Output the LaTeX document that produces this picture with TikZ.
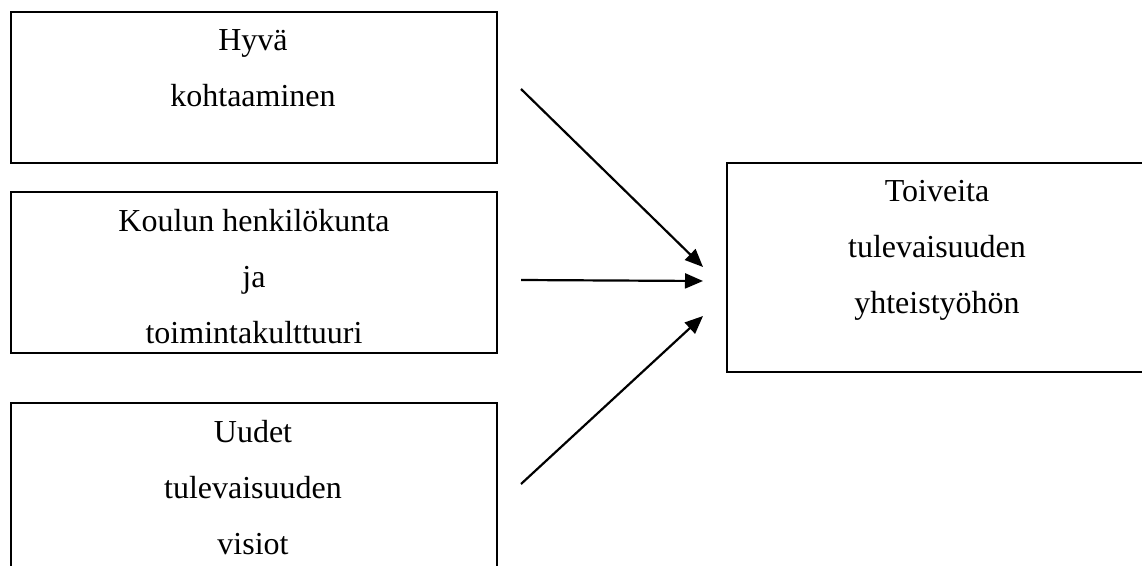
\documentclass[tikz,border=0pt]{standalone}
\usepackage{fontspec}
\setmainfont{Liberation Serif}
\usetikzlibrary{arrows.meta}
\begin{document}
\begin{tikzpicture}[x=1pt,y=-1pt,
  box/.style={draw, line width=1.8pt, inner sep=0pt, outer sep=0pt},
  txt/.style={align=center, inner sep=0pt, anchor=north, font=\fontsize{32}{56}\selectfont, execute at begin node=\rule{0pt}{24pt}},
  conn/.style={-{Triangle[length=18pt,width=15pt]}, line width=2.2pt}]
\useasboundingbox (0,0) rectangle (1142,565);
\clip (0,0) rectangle (1142,565);
\node[box, minimum width=486pt, minimum height=151pt] (b1) at (254,87.5) {};
\node[box, minimum width=486pt, minimum height=161pt] (b2) at (254,272.5) {};
\node[box, minimum width=486pt, minimum height=197pt] (b3) at (254,501.5) {};
\node[box, minimum width=420pt, minimum height=209pt] (b4) at (937,267.5) {};
\node[txt] (t1) at ([yshift=-17pt,xshift=-1pt]b1.north) {Hyvä\\kohtaaminen};
\node[txt] (t2) at ([yshift=-17pt]b2.north) {Koulun henkilökunta\\ja\\toimintakulttuuri};
\node[txt] (t3) at ([yshift=-17pt,xshift=-1pt]b3.north) {Uudet\\tulevaisuuden\\visiot};
\node[txt] (t4) at ([yshift=-17pt]b4.north) {Toiveita\\tulevaisuuden\\yhteistyöhön};
\coordinate (a1s) at (521,89);
\coordinate (a1e) at (703,267);
\coordinate (a2s) at (521,280);
\coordinate (a2e) at (703,281);
\coordinate (a3s) at (521,484);
\coordinate (a3e) at (703,316);
\draw[conn] (a1s) -- (a1e);
\draw[conn] (a2s) -- (a2e);
\draw[conn] (a3s) -- (a3e);
\end{tikzpicture}
\end{document}
